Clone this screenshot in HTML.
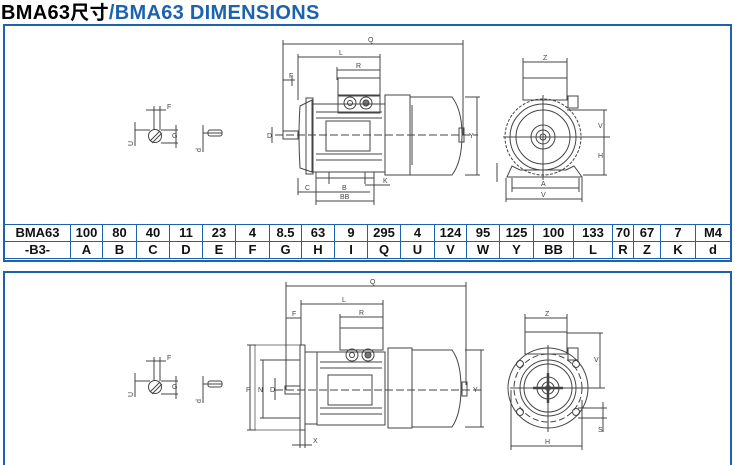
<!DOCTYPE html>
<html><head><meta charset="utf-8"><style>
html,body{margin:0;padding:0;background:#fff;width:735px;height:465px;overflow:hidden;position:relative;font-family:"Liberation Sans","Noto Sans CJK SC",sans-serif}
.title{position:absolute;left:1px;top:-2px;font-size:20px;font-weight:bold;white-space:nowrap;letter-spacing:0.3px}
.title .b{color:#1c62ad}
.box{position:absolute;border:2px solid #1c62ad;box-sizing:border-box}
table{position:absolute;border-collapse:collapse;table-layout:fixed;font-size:13px;font-weight:bold;color:#111;font-family:"Liberation Sans",sans-serif}
td{border:1px solid #1c62ad;text-align:center;padding:0;height:16px;line-height:16px;overflow:hidden}
svg{position:absolute;left:0;top:0}
</style></head><body>
<div class="title">BMA63<span style="font-family:'Noto Sans CJK SC',sans-serif;font-weight:bold;font-size:19px">尺寸</span><span class="b">/BMA63 DIMENSIONS</span></div>
<div class="box" style="left:3px;top:24px;width:729px;height:238px"></div>
<div class="box" style="left:3px;top:271px;width:729px;height:200px"></div>
<table style="left:4px;top:224px;width:726px">
<colgroup><col style="width:66px"><col style="width:32px"><col style="width:34px"><col style="width:33px"><col style="width:33px"><col style="width:33px"><col style="width:34px"><col style="width:32px"><col style="width:33px"><col style="width:33px"><col style="width:33px"><col style="width:34px"><col style="width:32px"><col style="width:33px"><col style="width:34px"><col style="width:40px"><col style="width:39px"><col style="width:21px"><col style="width:27px"><col style="width:35px"><col style="width:35px"></colgroup>
<tr><td>BMA63</td><td>100</td><td>80</td><td>40</td><td>11</td><td>23</td><td>4</td><td>8.5</td><td>63</td><td>9</td><td>295</td><td>4</td><td>124</td><td>95</td><td>125</td><td>100</td><td>133</td><td>70</td><td>67</td><td>7</td><td>M4</td></tr>
<tr><td>-B3-</td><td>A</td><td>B</td><td>C</td><td>D</td><td>E</td><td>F</td><td>G</td><td>H</td><td>I</td><td>Q</td><td>U</td><td>V</td><td>W</td><td>Y</td><td>BB</td><td>L</td><td>R</td><td>Z</td><td>K</td><td>d</td></tr>
</table>
<svg width="735" height="465" viewBox="0 0 735 465" fill="none" stroke="#444" stroke-width="1" font-family="Liberation Sans,sans-serif" font-size="7">
<!-- ===== TOP SIDE VIEW ===== -->
<g>
<line x1="283" y1="44" x2="463" y2="44"/><line x1="283" y1="40" x2="283" y2="135"/><line x1="463" y1="40" x2="463" y2="135"/>
<text x="368" y="42" fill="#444" stroke="none">Q</text>
<line x1="298" y1="57" x2="380" y2="57"/><line x1="298" y1="54" x2="298" y2="100"/><line x1="380" y1="54" x2="380" y2="80"/>
<text x="339" y="55" fill="#444" stroke="none">L</text>
<line x1="337" y1="70" x2="380" y2="70"/><line x1="337" y1="67" x2="337" y2="80"/>
<text x="356" y="68" fill="#444" stroke="none">R</text>
<line x1="283" y1="80" x2="295" y2="80"/><line x1="292" y1="76" x2="292" y2="86"/><text x="289" y="78" fill="#444" stroke="none">F</text>
<rect x="338" y="78" width="42" height="18"/>
<circle cx="350" cy="103" r="6"/><circle cx="350" cy="103" r="2.5"/><circle cx="366" cy="103" r="6"/><circle cx="366" cy="103" r="3" fill="#777"/>
<rect x="338" y="95" width="42" height="18"/>
<path d="M300 106 Q298 135 300 168 L312 172 L312 100 Z"/>
<rect x="306" y="98" width="7" height="76"/>
<rect x="313" y="104" width="72" height="68"/>
<line x1="316" y1="112" x2="382" y2="112"/><line x1="316" y1="118" x2="382" y2="118"/><line x1="316" y1="154" x2="382" y2="154"/><line x1="316" y1="160" x2="382" y2="160"/>
<rect x="326" y="121" width="44" height="30"/>
<rect x="385" y="95" width="25" height="80"/>
<path d="M410 97 L452 97 Q462 110 462 135 Q462 162 452 175 L410 175 Z"/>
<rect x="459" y="128" width="5" height="14"/>
<line x1="412" y1="105" x2="412" y2="165"/>
<rect x="283" y="131" width="15" height="8"/>
<line x1="275" y1="135" x2="478" y2="135" stroke-dasharray="8,3"/>
<rect x="316" y="172" width="58" height="6"/><line x1="329" y1="172" x2="329" y2="184"/><line x1="365" y1="172" x2="365" y2="184"/>
<line x1="272" y1="127" x2="272" y2="143"/><text x="267" y="138" fill="#444" stroke="none">D</text>
<line x1="465" y1="97" x2="480" y2="97"/><line x1="465" y1="175" x2="480" y2="175"/><line x1="477" y1="97" x2="477" y2="175"/><text x="469" y="138" fill="#444" stroke="none">Y</text>
<line x1="298" y1="192" x2="370" y2="192"/><text x="305" y="190" fill="#444" stroke="none">C</text><text x="342" y="190" fill="#444" stroke="none">B</text>
<line x1="298" y1="178" x2="298" y2="195"/><line x1="316" y1="178" x2="316" y2="205"/><line x1="374" y1="178" x2="374" y2="205"/>
<line x1="316" y1="201" x2="374" y2="201"/><text x="340" y="199" fill="#444" stroke="none">BB</text>
<line x1="365" y1="185" x2="390" y2="185"/><text x="383" y="183" fill="#444" stroke="none">K</text>
</g>
<!-- ===== TOP END VIEW ===== -->
<g>
<line x1="523" y1="62" x2="567" y2="62"/><line x1="523" y1="58" x2="523" y2="80"/><line x1="567" y1="58" x2="567" y2="80"/><text x="543" y="60" fill="#444" stroke="none">Z</text>
<rect x="523" y="78" width="44" height="22"/>
<rect x="568" y="96" width="10" height="12"/>
<circle cx="543" cy="137" r="38" stroke-dasharray="3,1.5"/><circle cx="543" cy="137" r="33"/><circle cx="543" cy="137" r="27"/>
<circle cx="543" cy="137" r="12"/><circle cx="543" cy="137" r="7"/><circle cx="543" cy="137" r="3"/>
<line x1="503" y1="137" x2="610" y2="137"/><line x1="543" y1="95" x2="543" y2="180"/>
<path d="M507 177 L512 166 L520 170 L566 170 L574 166 L582 177 Z"/>
<line x1="567" y1="110" x2="607" y2="110"/><line x1="604" y1="110" x2="604" y2="175"/><line x1="583" y1="175" x2="607" y2="175"/>
<text x="598" y="128" fill="#444" stroke="none">V</text><text x="598" y="158" fill="#444" stroke="none">H</text>
<line x1="512" y1="178" x2="512" y2="192"/><line x1="579" y1="178" x2="579" y2="192"/><line x1="512" y1="188" x2="579" y2="188"/><text x="541" y="186" fill="#444" stroke="none">A</text>
<line x1="506" y1="178" x2="506" y2="202"/><line x1="582" y1="178" x2="582" y2="202"/><line x1="506" y1="199" x2="582" y2="199"/><text x="541" y="197" fill="#444" stroke="none">V</text>
<line x1="497" y1="163" x2="497" y2="182"/>
</g>
<!-- ===== KEY SECTIONS ===== -->
<g id="keys">
<line x1="146" y1="110" x2="166" y2="110"/><line x1="154" y1="106" x2="154" y2="130"/><line x1="160" y1="106" x2="160" y2="130"/><text x="167" y="109" fill="#444" stroke="none">F</text>
<circle cx="155" cy="136" r="6.5"/><line x1="150" y1="141" x2="160" y2="131"/><line x1="152" y1="143" x2="162" y2="133"/>
<line x1="135" y1="122" x2="135" y2="146"/><line x1="135" y1="130" x2="150" y2="130"/><text x="133" y="146" fill="#444" stroke="none" transform="rotate(-90 133 146)">U</text>
<line x1="176" y1="125" x2="176" y2="148"/><line x1="161" y1="130" x2="178" y2="130"/><line x1="161" y1="143" x2="178" y2="143"/><text x="172" y="138" fill="#444" stroke="none">G</text>
<line x1="203" y1="125" x2="203" y2="152"/><rect x="208" y="130" width="14" height="6" rx="2"/><line x1="203" y1="133" x2="222" y2="133"/>
<text x="201" y="152" fill="#444" stroke="none" transform="rotate(-90 201 152)">d</text>
</g>
<use href="#keys" transform="translate(0,251)"/>
<!-- ===== BOTTOM SIDE VIEW ===== -->
<g>
<line x1="286" y1="286" x2="466" y2="286"/><line x1="286" y1="282" x2="286" y2="390"/><line x1="466" y1="282" x2="466" y2="385"/><text x="370" y="284" fill="#444" stroke="none">Q</text>
<line x1="301" y1="304" x2="383" y2="304"/><line x1="301" y1="300" x2="301" y2="345"/><line x1="383" y1="300" x2="383" y2="330"/><text x="342" y="302" fill="#444" stroke="none">L</text>
<line x1="340" y1="317" x2="383" y2="317"/><line x1="340" y1="314" x2="340" y2="330"/><text x="359" y="315" fill="#444" stroke="none">R</text>
<line x1="286" y1="318" x2="301" y2="318"/><text x="292" y="316" fill="#444" stroke="none">F</text>
<rect x="340" y="328" width="43" height="22"/>
<circle cx="352" cy="355" r="6"/><circle cx="352" cy="355" r="2.5"/><circle cx="368" cy="355" r="6"/><circle cx="368" cy="355" r="3" fill="#777"/>
<rect x="255" y="345" width="45" height="85" stroke-width="0.7"/>
<rect x="300" y="345" width="5" height="85"/>
<rect x="305" y="352" width="12" height="72"/>
<rect x="317" y="352" width="68" height="73"/>
<line x1="320" y1="362" x2="382" y2="362"/><line x1="320" y1="368" x2="382" y2="368"/><line x1="320" y1="408" x2="382" y2="408"/><line x1="320" y1="414" x2="382" y2="414"/>
<rect x="328" y="375" width="44" height="30"/>
<rect x="388" y="348" width="24" height="80"/>
<path d="M412 350 L452 350 Q461 362 461 388 Q461 414 452 427 L412 427 Z"/>
<rect x="462" y="382" width="5" height="14"/>
<rect x="285" y="386" width="15" height="8"/>
<line x1="275" y1="390" x2="484" y2="390" stroke-dasharray="8,3"/>
<line x1="250" y1="345" x2="250" y2="430"/><line x1="247" y1="345" x2="256" y2="345"/><line x1="247" y1="430" x2="256" y2="430"/><text x="246" y="392" fill="#444" stroke="none">P</text>
<line x1="263" y1="360" x2="263" y2="418"/><line x1="260" y1="360" x2="300" y2="360"/><line x1="260" y1="418" x2="300" y2="418"/><text x="258" y="392" fill="#444" stroke="none">N</text>
<line x1="275" y1="378" x2="275" y2="400"/><text x="270" y="392" fill="#444" stroke="none">D</text>
<line x1="465" y1="350" x2="484" y2="350"/><line x1="465" y1="427" x2="484" y2="427"/><line x1="481" y1="350" x2="481" y2="427"/><text x="473" y="392" fill="#444" stroke="none">Y</text>
<line x1="300" y1="430" x2="300" y2="448"/><line x1="305" y1="430" x2="305" y2="448"/><line x1="292" y1="445" x2="312" y2="445"/><text x="313" y="443" fill="#444" stroke="none">X</text>
</g>
<!-- ===== BOTTOM END VIEW ===== -->
<g>
<line x1="525" y1="318" x2="567" y2="318"/><line x1="525" y1="314" x2="525" y2="335"/><line x1="567" y1="314" x2="567" y2="335"/><text x="545" y="316" fill="#444" stroke="none">Z</text>
<rect x="525" y="332" width="42" height="22"/>
<rect x="568" y="348" width="10" height="12"/>
<circle cx="548" cy="388" r="40"/><circle cx="548" cy="388" r="34" stroke-dasharray="6,3"/><circle cx="548" cy="388" r="28"/><circle cx="548" cy="388" r="24"/>
<circle cx="548" cy="388" r="11"/><circle cx="548" cy="388" r="6"/><circle cx="548" cy="388" r="2.5"/>
<circle cx="520" cy="364" r="3.5"/><circle cx="576" cy="364" r="3.5"/><circle cx="520" cy="412" r="3.5"/><circle cx="576" cy="412" r="3.5"/>
<line x1="510" y1="388" x2="605" y2="388"/><line x1="548" y1="345" x2="548" y2="432"/>
<line x1="533" y1="388" x2="563" y2="388" stroke-width="2.5"/><line x1="548" y1="373" x2="548" y2="403" stroke-width="2.5"/>
<line x1="567" y1="333" x2="603" y2="333"/><line x1="600" y1="333" x2="600" y2="388"/><text x="594" y="362" fill="#444" stroke="none">V</text>
<line x1="578" y1="408" x2="607" y2="408"/><line x1="578" y1="418" x2="607" y2="418"/><line x1="603" y1="402" x2="603" y2="432"/><text x="598" y="432" fill="#444" stroke="none">S</text>
<line x1="511" y1="390" x2="511" y2="450"/><line x1="582" y1="400" x2="582" y2="450"/><line x1="511" y1="446" x2="582" y2="446"/><text x="545" y="444" fill="#444" stroke="none">H</text>
</g>
</svg>
</body></html>
